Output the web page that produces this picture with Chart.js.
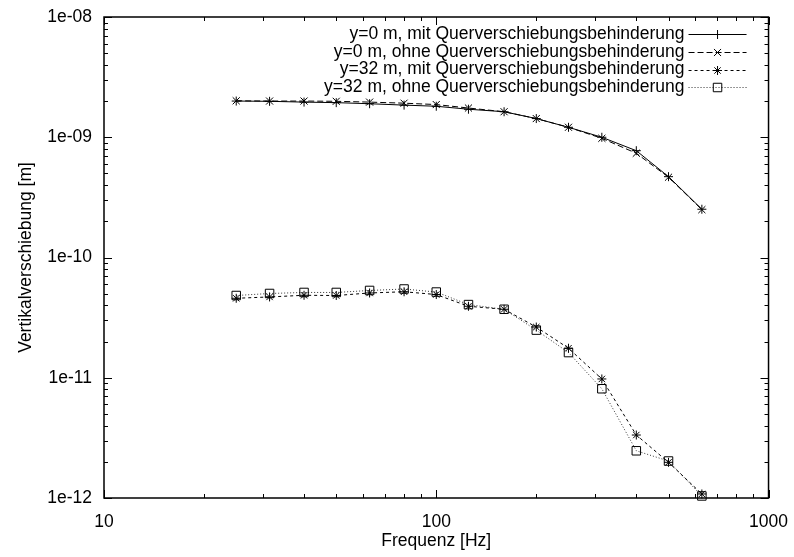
<!DOCTYPE html>
<html>
<head>
<meta charset="utf-8">
<script src="https://cdn.jsdelivr.net/npm/chart.js@4.4.0/dist/chart.umd.min.js"></script>
<style>
  body { margin: 0; background: #fff; }
  canvas { display: block; }
</style>
</head>
<body>
<canvas id="myChart" width="794" height="557"></canvas>
<script>
// Terzfrequenzen [Hz]
const frequencies = [25, 31.5, 40, 50, 63, 80, 100, 125, 160, 200, 250, 315, 400, 500, 630];

// Vertikalverschiebung [m]
const y0Mit = [2.00e-9, 1.99e-9, 1.96e-9, 1.94e-9, 1.90e-9, 1.85e-9, 1.81e-9, 1.71e-9, 1.63e-9, 1.43e-9, 1.21e-9, 1.00e-9, 7.73e-10, 4.70e-10, 2.52e-10];
const y0Ohne = [2.01e-9, 2.00e-9, 2.00e-9, 1.99e-9, 1.96e-9, 1.92e-9, 1.87e-9, 1.75e-9, 1.63e-9, 1.43e-9, 1.21e-9, 9.8e-10, 7.36e-10, 4.65e-10, 2.50e-10];
const y32Mit = [4.58e-11, 4.70e-11, 4.85e-11, 4.83e-11, 5.07e-11, 5.19e-11, 4.92e-11, 3.93e-11, 3.71e-11, 2.64e-11, 1.76e-11, 9.77e-12, 3.34e-12, 1.98e-12, 1.08e-12];
const y32Ohne = [4.83e-11, 5.02e-11, 5.12e-11, 5.12e-11, 5.32e-11, 5.47e-11, 5.16e-11, 4.06e-11, 3.71e-11, 2.49e-11, 1.62e-11, 8.1e-12, 2.47e-12, 2.03e-12, 1.04e-12];

const seriesLabels = [
    'y=0 m, mit Querverschiebungsbehinderung',
    'y=0 m, ohne Querverschiebungsbehinderung',
    'y=32 m, mit Querverschiebungsbehinderung',
    'y=32 m, ohne Querverschiebungsbehinderung'
];

// Achsenbeschriftung
const xTickValues = [10, 100, 1000];
const xTickLabels = ['10', '100', '1000'];
const yTickValues = [1e-12, 1e-11, 1e-10, 1e-9, 1e-8];
const yTickLabels = ['1e-12', '1e-11', '1e-10', '1e-09', '1e-08'];

const FONT = { family: '"Liberation Sans", Arial, sans-serif', size: 17.5 };

function toPoints(values) {
    return frequencies.map((f, i) => ({ x: f, y: values[i] }));
}

// Haupt- und Nebenteilstriche (1..9 x 10^n)
function logTicks(majors) {
    const ticks = [];
    majors.forEach((m, i) => {
        ticks.push({ value: m, major: true });
        if (i < majors.length - 1) {
            for (let k = 2; k <= 9; k++) ticks.push({ value: m * k, major: false });
        }
    });
    return ticks;
}

// Rahmen und nach innen gerichtete Teilstriche auf allen vier Seiten
const framePlugin = {
    id: 'frame',
    afterDatasetsDraw(chart) {
        const { ctx, chartArea: a, scales } = chart;
        ctx.save();
        ctx.strokeStyle = '#000';
        ctx.lineWidth = 1;
        ctx.beginPath();
        scales.x.ticks.forEach(t => {
            const px = Math.round(scales.x.getPixelForValue(t.value)) + 0.5;
            const len = t.major ? 8 : 4;
            ctx.moveTo(px, a.bottom); ctx.lineTo(px, a.bottom - len);
            ctx.moveTo(px, a.top); ctx.lineTo(px, a.top + len);
        });
        scales.y.ticks.forEach(t => {
            const py = Math.round(scales.y.getPixelForValue(t.value)) + 0.5;
            const len = t.major ? 8 : 4;
            ctx.moveTo(a.left, py); ctx.lineTo(a.left + len, py);
            ctx.moveTo(a.right, py); ctx.lineTo(a.right - len, py);
        });
        ctx.stroke();
        ctx.lineWidth = 1.5;
        ctx.strokeRect(a.left, a.top, a.right - a.left, a.bottom - a.top);
        ctx.restore();
    }
};

// Legende oben rechts, Text rechtsbündig, Linienmuster rechts daneben
const legendPlugin = {
    id: 'gpLegend',
    afterDraw(chart) {
        const { ctx, chartArea: a } = chart;
        ctx.save();
        ctx.font = FONT.size + 'px ' + FONT.family;
        ctx.textAlign = 'right';
        ctx.textBaseline = 'middle';
        const textRight = a.right - 84;
        const x1 = a.right - 80, x2 = a.right - 22;
        chart.data.datasets.forEach((ds, i) => {
            const y = a.top + 17 + i * 17.8;
            const ly = Math.round(y) + 0.5;
            ctx.fillStyle = '#000';
            ctx.fillText(ds.label, textRight, y);
            ctx.strokeStyle = ds.borderColor;
            ctx.lineWidth = 1;
            ctx.setLineDash(ds.borderDash || []);
            ctx.beginPath();
            ctx.moveTo(x1, ly);
            ctx.lineTo(x2, ly);
            ctx.stroke();
            ctx.setLineDash([]);
            ctx.fillStyle = 'rgba(0,0,0,0)';
            ctx.strokeStyle = '#000';
            Chart.helpers.drawPoint(ctx, {
                pointStyle: ds.pointStyle,
                radius: ds.pointRadius,
                borderWidth: 1,
                rotation: 0
            }, (x1 + x2) / 2, ly);
        });
        ctx.restore();
    }
};

function renderChart() {
    const ctx = document.getElementById('myChart').getContext('2d');
    const common = {
        borderWidth: 1,
        pointRadius: 4,
        pointBorderWidth: 1,
        pointBackgroundColor: 'rgba(0,0,0,0)',
        pointBorderColor: '#000',
        fill: false,
        tension: 0,
        clip: false
    };
    new Chart(ctx, {
        type: 'line',
        data: {
            datasets: [
                { ...common, label: seriesLabels[0], data: toPoints(y0Mit), borderColor: '#000', pointStyle: 'cross', pointRadius: 4.5, borderDash: [] },
                { ...common, label: seriesLabels[1], data: toPoints(y0Ohne), borderColor: '#000', pointStyle: 'crossRot', pointRadius: 5, borderDash: [6, 3] },
                { ...common, label: seriesLabels[2], data: toPoints(y32Mit), borderColor: '#000', pointStyle: 'star', pointRadius: 4.5, borderDash: [3, 3] },
                { ...common, label: seriesLabels[3], data: toPoints(y32Ohne), borderColor: '#333', pointStyle: 'rect', pointRadius: 6, borderDash: [1, 2] }
            ]
        },
        options: {
            responsive: false,
            animation: false,
            events: [],
            layout: { padding: { top: 17, right: 22, left: 0, bottom: 0 } },
            plugins: {
                legend: { display: false },
                tooltip: { enabled: false }
            },
            scales: {
                x: {
                    type: 'logarithmic',
                    min: 10,
                    max: 1000,
                    afterBuildTicks: s => { s.ticks = logTicks(xTickValues); },
                    afterFit: s => { s.height = 59; },
                    grid: { display: false },
                    border: { display: false },
                    ticks: {
                        autoSkip: false,
                        maxRotation: 0,
                        padding: 6,
                        color: '#000',
                        font: FONT,
                        callback: v => {
                            const i = xTickValues.indexOf(v);
                            return i >= 0 ? xTickLabels[i] : '';
                        }
                    },
                    title: {
                        display: true,
                        text: 'Frequenz [Hz]',
                        color: '#000',
                        font: FONT,
                        padding: { top: 0, bottom: 5 }
                    }
                },
                y: {
                    type: 'logarithmic',
                    min: 1e-12,
                    max: 1e-8,
                    afterBuildTicks: s => { s.ticks = logTicks(yTickValues); },
                    afterFit: s => { s.width = 104; },
                    grid: { display: false },
                    border: { display: false },
                    ticks: {
                        autoSkip: false,
                        padding: 4,
                        color: '#000',
                        font: FONT,
                        callback: v => {
                            const i = yTickValues.findIndex(t => Math.abs(t - v) / t < 1e-6);
                            return i >= 0 ? yTickLabels[i] : '';
                        }
                    },
                    title: {
                        display: true,
                        text: 'Vertikalverschiebung [m]',
                        color: '#000',
                        font: FONT,
                        padding: { top: 16, bottom: 0 }
                    }
                }
            }
        },
        plugins: [framePlugin, legendPlugin]
    });
}

renderChart();
</script>
</body>
</html>
